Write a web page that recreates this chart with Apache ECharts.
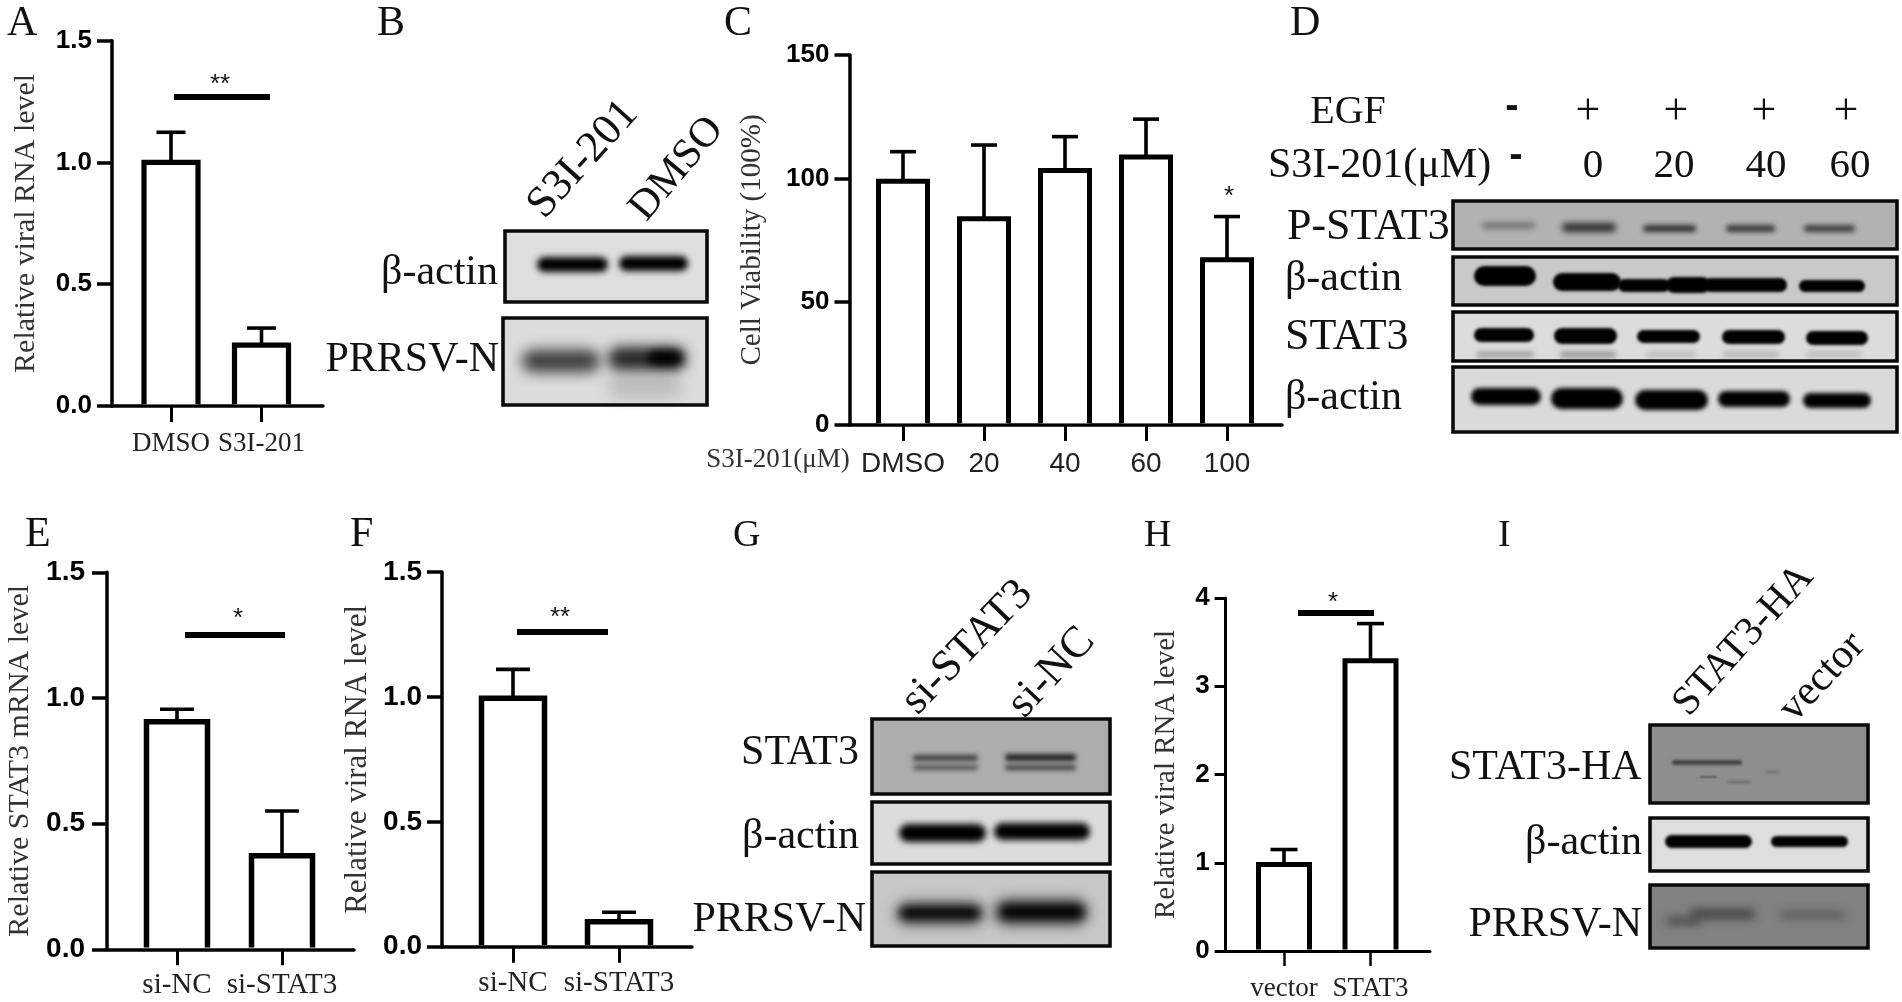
<!DOCTYPE html>
<html><head><meta charset="utf-8">
<style>html,body{margin:0;padding:0;background:#fff}#c{width:1902px;height:1002px}</style>
<script src="https://cdn.jsdelivr.net/npm/echarts@6/dist/echarts.min.js"></script>
</head><body><div id="c"></div>
<script>
// ---- data ----
const aCategories = ['DMSO', 'S3I-201'];
const aValues = [1.0, 0.25];
const aErrors = [1.124, 0.32];
const cCategories = ['DMSO', '20', '40', '60', '100'];
const cValues = [98.8, 83.6, 103.2, 108.6, 67];
const cErrors = [110.8, 113.5, 116.9, 124, 84.5];
const eCategories = ['si-NC', 'si-STAT3'];
const eValues = [0.905, 0.372];
const eErrors = [0.955, 0.55];
const fCategories = ['si-NC', 'si-STAT3'];
const fValues = [0.995, 0.1];
const fErrors = [1.11, 0.138];
const hCategories = ['vector', 'STAT3'];
const hValues = [0.98, 3.29];
const hErrors = [1.15, 3.71];

const SANS = '"Liberation Sans",Arial,sans-serif';
const SERIF = '"Liberation Serif","Times New Roman",serif';

// ---- chart panels ----
const panels = [
  {cats:aCategories, vals:aValues, errs:aErrors, name:'Relative viral RNA level', nameSize:30, nameGap:71, max:1.5, interval:0.5,
   left:112, right:323, top:40.7, bottom:406, c1:171, step:90.5, barW:54, lw:5.2, cap:29, axisW:3.5, tickX:16, tickY:15,
   labelSize:27, labelMargin:24, tickSize:26, tickMargin:20, catFont:SERIF, dec:1},
  {cats:cCategories, vals:cValues, errs:cErrors, name:'Cell Viability (100%)', nameSize:29, nameGap:83, max:150, interval:50,
   left:849.5, right:1282, top:55, bottom:425, c1:903, step:81, barW:49, lw:5, cap:26, axisW:3.5, tickX:16, tickY:15,
   labelSize:28, labelMargin:25, tickSize:26, tickMargin:20, catFont:SANS, dec:0},
  {cats:eCategories, vals:eValues, errs:eErrors, name:'Relative STAT3 mRNA level', nameSize:30, nameGap:72, max:1.5, interval:0.5,
   left:107, right:354, top:572.3, bottom:949.3, c1:177, step:105, barW:61, lw:5.5, cap:34, axisW:3.5, tickX:16, tickY:15,
   labelSize:29, labelMargin:22, tickSize:28, tickMargin:22, catFont:SERIF, dec:1},
  {cats:fCategories, vals:fValues, errs:fErrors, name:'Relative viral RNA level', nameSize:31, nameGap:69, max:1.5, interval:0.5,
   left:442, right:692, top:572, bottom:946.7, c1:513, step:106, barW:63, lw:5.5, cap:34, axisW:3.5, tickX:16, tickY:15,
   labelSize:29, labelMargin:22, tickSize:28, tickMargin:20, catFont:SERIF, dec:1},
  {cats:hCategories, vals:hValues, errs:hErrors, name:'Relative viral RNA level', nameSize:29, nameGap:45, max:4, interval:1,
   left:1225.6, right:1430, top:598, bottom:952.7, c1:1284, step:86.5, barW:51, lw:5, cap:27, axisW:3, tickX:15, tickY:11,
   labelSize:27, labelMargin:24, tickSize:26, tickMargin:16, catFont:SERIF, dec:0}
];

const W = 1902, H = 1002;
const grid = [], xAxis = [], yAxis = [], series = [];
panels.forEach((p, i) => {
  grid.push({left:p.left, top:p.top, width:p.right-p.left, height:p.bottom-p.top, containLabel:false});
  const ticks = p.cats.map((_, k) => k + 1);
  xAxis.push({
    gridIndex:i, type:'value',
    min:1 + (p.left - p.c1) / p.step, max:1 + (p.right - p.c1) / p.step,
    splitLine:{show:false},
    axisLine:{show:true, onZero:false, lineStyle:{color:'#000', width:p.axisW}},
    axisTick:{show:true, customValues:ticks, length:p.tickX, lineStyle:{color:'#000', width:p.axisW-0.5}},
    axisLabel:{show:true, customValues:ticks, margin:p.labelMargin, fontFamily:p.catFont, fontSize:p.labelSize, color:'#222',
      hideOverlap:false, formatter:v => p.cats[Math.round(v) - 1]}
  });
  yAxis.push({
    gridIndex:i, type:'value', min:0, max:p.max, interval:p.interval,
    name:p.name, nameLocation:'middle', nameGap:p.nameGap,
    nameTextStyle:{fontFamily:SERIF, fontSize:p.nameSize, color:'#333'},
    splitLine:{show:false},
    axisLine:{show:true, lineStyle:{color:'#000', width:p.axisW}},
    axisTick:{show:true, length:p.tickY, lineStyle:{color:'#000', width:p.axisW}},
    axisLabel:{margin:p.tickMargin, fontFamily:SANS, fontWeight:'bold', fontSize:p.tickSize, color:'#000',
      formatter:v => v.toFixed(p.dec)}
  });
  // error bars
  series.push({
    type:'custom', xAxisIndex:i, yAxisIndex:i, z:2, silent:true,
    data:p.errs.map((e, k) => [k + 1, p.vals[k], e]),
    renderItem:(params, api) => {
      const a = api.coord([api.value(0), api.value(1)]);
      const b = api.coord([api.value(0), api.value(2)]);
      const st = {stroke:'#000', lineWidth:3.6, fill:null};
      return {type:'group', children:[
        {type:'line', shape:{x1:a[0], y1:a[1], x2:b[0], y2:b[1]}, style:st},
        {type:'line', shape:{x1:b[0]-p.cap/2, y1:b[1], x2:b[0]+p.cap/2, y2:b[1]}, style:st}
      ]};
    }
  });
  // open-bottomed outlined bars standing on the axis
  series.push({
    type:'custom', xAxisIndex:i, yAxisIndex:i, z:3, silent:true,
    data:p.vals.map((v, k) => [k + 1, v]),
    renderItem:(params, api) => {
      const t = api.coord([api.value(0), api.value(1)]);
      const b = api.coord([api.value(0), 0]);
      const yb = b[1] - p.axisW / 2;
      const h = p.barW / 2;
      return {type:'polyline', shape:{points:[[t[0]-h, yb],[t[0]-h, t[1]],[t[0]+h, t[1]],[t[0]+h, yb]]},
        style:{fill:'#fff', stroke:'#000', lineWidth:p.lw, lineJoin:'miter'}};
    }
  });
});

// ---- annotation and blot drawing ----
const g = [];
function txt(text, x, y, size, o) {
  o = o || {};
  g.push({type:'text', x, y, rotation:o.rot || 0, scaleX:o.sx || 1, silent:true, style:{
    text, fill:o.fill || '#111', textAlign:o.align || 'center', textVerticalAlign:o.va || 'middle',
    font:(o.weight ? o.weight + ' ' : '') + size + 'px ' + (o.font || SERIF)
  }});
}
function rotTxt(text, x, y, size, deg) { txt(text, x, y, size, {rot:deg * Math.PI / 180, align:'left', va:'bottom'}); }
function sig(x0, x1, y, t, sx, sy) {
  g.push({type:'rect', silent:true, shape:{x:x0, y:y - 3, width:x1 - x0, height:6}, style:{fill:'#000'}});
  txt(t, sx, sy, 26, {font:SANS, fill:'#111'});
}
const OFF = 4000;
function band(x0, x1, y0, y1, color, blur) {
  const h = y1 - y0;
  g.push({type:'rect', silent:true, shape:{x:x0 - OFF, y:y0, width:x1 - x0, height:h, r:h / 2},
    style:{fill:color, shadowColor:color, shadowBlur:blur === undefined ? 4 : blur, shadowOffsetX:OFF}});
}
function frameBg(x0, x1, y0, y1, bg) {
  g.push({type:'rect', silent:true, shape:{x:x0, y:y0, width:x1 - x0, height:y1 - y0}, style:{fill:bg}});
}
function frameLine(x0, x1, y0, y1) {
  g.push({type:'rect', silent:true, shape:{x:x0, y:y0, width:x1 - x0, height:y1 - y0},
    style:{fill:null, stroke:'#0a0a0a', lineWidth:3.6}});
}
function blot(x0, x1, y0, y1, bg, bands) {
  frameBg(x0, x1, y0, y1, bg);
  bands.forEach(b => band.apply(null, b));
  frameLine(x0, x1, y0, y1);
}

// panel letters
[['A',7,24],['B',377,24],['C',724,24],['D',1290,24],['E',25,535],['F',350,535],['G',733,536],['H',1144,536],['I',1498,536]]
  .forEach(l => txt(l[0], l[1], l[2], l[0] >= 'G' ? 38 : 42, {align:'left', fill:'#111'}));

// significance marks
sig(174, 270, 97, '**', 220, 85);
sig(185, 285, 635, '*', 238, 619);
sig(517, 608, 632, '**', 560, 618);
sig(1298, 1374, 613, '*', 1333, 603);
txt('*', 1229, 197, 26, {font:SANS});

// panel C left label
txt('S3I-201(\u03bcM)', 778, 460, 27, {fill:'#333'});

// panel B
blot(505, 707, 231, 302, '#dedede', [[537,608,257,272,'#000',6],[619,688,256,271,'#000',6]]);
blot(503, 707, 318, 405, '#dcdcdc', [
  [608,682,376,398,'#bdbdbd',14],
  [522,600,350,372,'#3a3a3a',14],[608,686,347,370,'#242424',13],[648,682,351,365,'#000',9]]);
txt('\u03b2-actin', 498, 273, 42, {align:'right'});
txt('PRRSV-N', 499, 360, 42, {align:'right'});
rotTxt('S3I-201', 552, 227, 44, 48);
rotTxt('DMSO', 654, 229, 42, 50);

// panel D
blot(1453, 1897, 201, 249, '#b2b2b2', [
  [1482,1535,223,228,'#5e5e5e',6],[1562,1616,223,232,'#2e2e2e',6],[1643,1696,225,232,'#333',5],
  [1726,1775,225,232,'#3a3a3a',5],[1804,1855,225,232,'#3f3f3f',5]]);
blot(1453, 1897, 257, 305, '#c9c9c9', [
  [1474,1536,266,286,'#000',3],[1553,1621,273,291,'#000',3],[1618,1670,279,292,'#000',3],
  [1666,1710,277,293,'#000',3],[1704,1787,278,292,'#000',3],[1799,1865,280,292,'#000',3]]);
blot(1453, 1897, 312, 361, '#dcdcdc', [
  [1476,1534,351,358,'#a8a8a8',5],[1560,1616,351,358,'#a0a0a0',5],[1646,1696,351,358,'#c0c0c0',5],
  [1722,1780,351,358,'#bcbcbc',5],[1806,1862,351,358,'#c0c0c0',5],
  [1474,1534,328,342,'#000',3],[1554,1617,328,344,'#000',3],[1637,1700,330,343,'#000',3],
  [1722,1785,330,344,'#000',3],[1806,1868,331,345,'#000',3]]);
blot(1453, 1897, 367, 432, '#dadada', [
  [1471,1541,388,405,'#000',4],[1551,1623,388,409,'#000',4],[1635,1708,390,410,'#000',4],
  [1718,1790,391,407,'#000',4],[1803,1871,393,408,'#000',4]]);
txt('EGF', 1348, 112, 40);
txt('-', 1512, 107, 40, {font:SANS, weight:'bold'});
['+', '+', '+', '+'].forEach((s, i) => txt(s, [1588,1676,1764,1846][i], 112, 44));
txt('S3I-201(\u03bcM)', 1268, 166, 42, {align:'left'});
txt('-', 1516, 156, 40, {font:SANS, weight:'bold'});
['0','20','40','60'].forEach((s, i) => txt(s, [1593,1674,1766,1850][i], 166, 41));
txt('P-STAT3', 1287, 227, 44, {align:'left'});
txt('\u03b2-actin', 1285, 279, 42, {align:'left'});
txt('STAT3', 1285, 337, 44, {align:'left'});
txt('\u03b2-actin', 1285, 398, 42, {align:'left'});

// panel G
blot(872, 1110, 719, 794, '#adadad', [
  [913,978,755,761,'#3c3c3c',5],[913,978,765,770,'#505050',5],
  [1005,1076,754,761,'#1e1e1e',5],[1005,1076,765,770,'#3c3c3c',5]]);
blot(872, 1110, 802, 864, '#dcdcdc', [[899,986,824,842,'#000',6],[994,1090,823,840,'#000',6]]);
blot(872, 1110, 872, 946, '#c8c8c8', [[896,984,902,925,'#5a5a5a',14],[994,1088,899,925,'#4a4a4a',14],
  [900,980,907,919,'#000',10],[1000,1084,905,919,'#000',10]]);
txt('STAT3', 859, 753, 42, {align:'right'});
txt('\u03b2-actin', 859, 837, 42, {align:'right'});
txt('PRRSV-N', 866, 920, 42, {align:'right'});
rotTxt('si-STAT3', 925, 723, 44, 46);
rotTxt('si-NC', 1032, 726, 44, 47);

// panel I
blot(1650, 1868, 725, 803, '#8e8e8e', [
  [1672,1742,760,765,'#444',3],[1700,1717,776,778,'#5c5c5c',2],[1727,1750,781,783,'#606060',3],[1765,1780,771,773,'#6a6a6a',3]]);
blot(1650, 1868, 818, 871, '#dedede', [[1665,1752,835,848,'#000',3],[1771,1848,836,847,'#000',3]]);
blot(1650, 1868, 885, 948, '#818181', [[1666,1700,917,925,'#4c4c4c',8],[1690,1755,909,919,'#464646',8],[1780,1845,911,919,'#5e5e5e',8]]);
txt('STAT3-HA', 1449, 768, 42, {align:'left'});
txt('\u03b2-actin', 1642, 843, 42, {align:'right'});
txt('PRRSV-N', 1642, 925, 42, {align:'right'});
rotTxt('STAT3-HA', 1696, 724, 41, 48);
rotTxt('vector', 1802, 730, 42, 47);

const chart = echarts.init(document.getElementById('c'), null, {width:W, height:H, devicePixelRatio:1});
chart.setOption({
  animation:false, backgroundColor:'#fff', tooltip:{show:false},
  grid, xAxis, yAxis, series, graphic:{elements:g}
});
</script></body></html>
